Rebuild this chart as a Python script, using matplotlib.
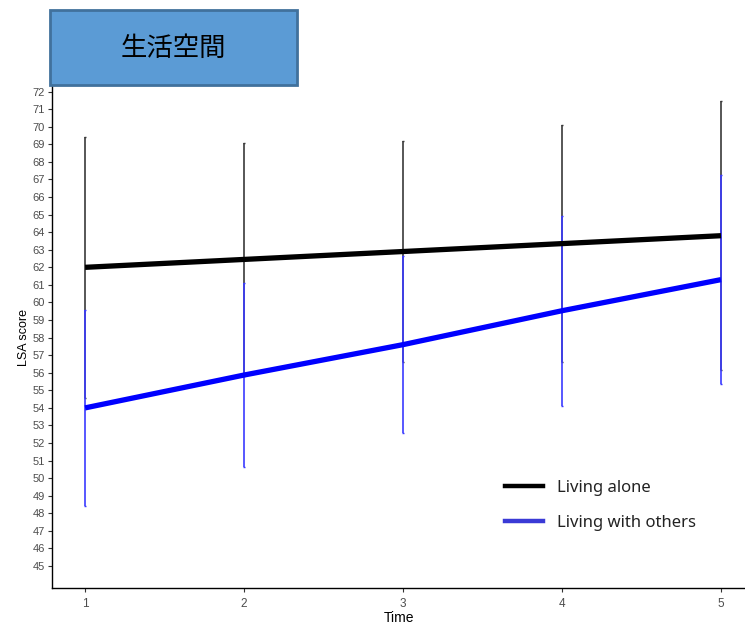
import matplotlib
matplotlib.use("Agg")
import matplotlib.pyplot as plt
from matplotlib.patches import Rectangle
from matplotlib.lines import Line2D

time = [1, 2, 3, 4, 5]
alone_mean = [62.0, 62.45, 62.9, 63.35, 63.8]
alone_err = [7.44, 6.62, 6.31, 6.75, 7.67]
others_mean = [54.0, 55.87, 57.6, 59.53, 61.3]
others_err = [5.6, 5.24, 5.02, 5.4, 5.95]
yticks = list(range(45, 73))
labels = ["Living alone", "Living with others"]
title_text = "生活空間"

fig = plt.figure(figsize=(7.45, 6.25), dpi=100)
ax = fig.add_axes([52/745, 1-588/625, 1-52/745, (588-86)/625])

ax.errorbar(time, alone_mean, yerr=alone_err, fmt="none", ecolor="#3a3a3a",
            elinewidth=1.2, capsize=1.0, capthick=1.0, zorder=2)
ax.errorbar(time, others_mean, yerr=others_err, fmt="none", ecolor="#3b3bff",
            elinewidth=1.2, capsize=1.0, capthick=1.0, zorder=3)
ax.plot(time, alone_mean, color="black", lw=3.8, zorder=4, solid_capstyle="butt")
ax.plot(time, others_mean, color="#0000ff", lw=3.8, zorder=4, solid_capstyle="butt")

ax.set_xlim(0.792, 5.151)
ax.set_ylim(43.75, 72.32)
ax.set_xticks(time)
ax.set_yticks(yticks)
for s in ["top", "right"]:
    ax.spines[s].set_visible(False)
for s in ["left", "bottom"]:
    ax.spines[s].set_color("black")
    ax.spines[s].set_linewidth(1.0)
ax.tick_params(axis="both", direction="out", length=3, width=0.8, color="#333333",
               labelcolor="#4d4d4d", labelsize=8.5)
for lab in ax.get_xticklabels() + ax.get_yticklabels():
    lab.set_family("Liberation Sans")
ax.tick_params(axis="x", pad=4)
ax.tick_params(axis="y", pad=2, labelsize=8)
ax.set_xlabel("Time", family="Liberation Sans", fontsize=10, labelpad=1)
ax.set_ylabel("LSA score", family="Liberation Sans", fontsize=9, labelpad=2)

handles = [Line2D([0], [0], color="black", lw=3.2),
           Line2D([0], [0], color="#3a3ad6", lw=3.2)]
leg = ax.legend(handles, labels, loc="upper left", bbox_to_anchor=(490/745, 1-465/625),
                bbox_transform=fig.transFigure, frameon=False,
                prop={"family": "Noto Sans", "size": 12},
                handlelength=2.3, handletextpad=0.8, labelspacing=1.15)
for t in leg.get_texts():
    t.set_color("#222222")

rect = Rectangle((50/745, 1-85/625), 247/745, 75/625, transform=fig.transFigure,
                 facecolor="#5b9bd5", edgecolor="#41719c", lw=2, zorder=10)
fig.patches.append(rect)
fig.text((50+297)/2/745, 1-48/625, title_text, ha="center", va="center",
         fontsize=19, family=["Noto Sans CJK JP", "DejaVu Sans"], color="black", zorder=11)

fig.savefig("out.png", dpi=100)
